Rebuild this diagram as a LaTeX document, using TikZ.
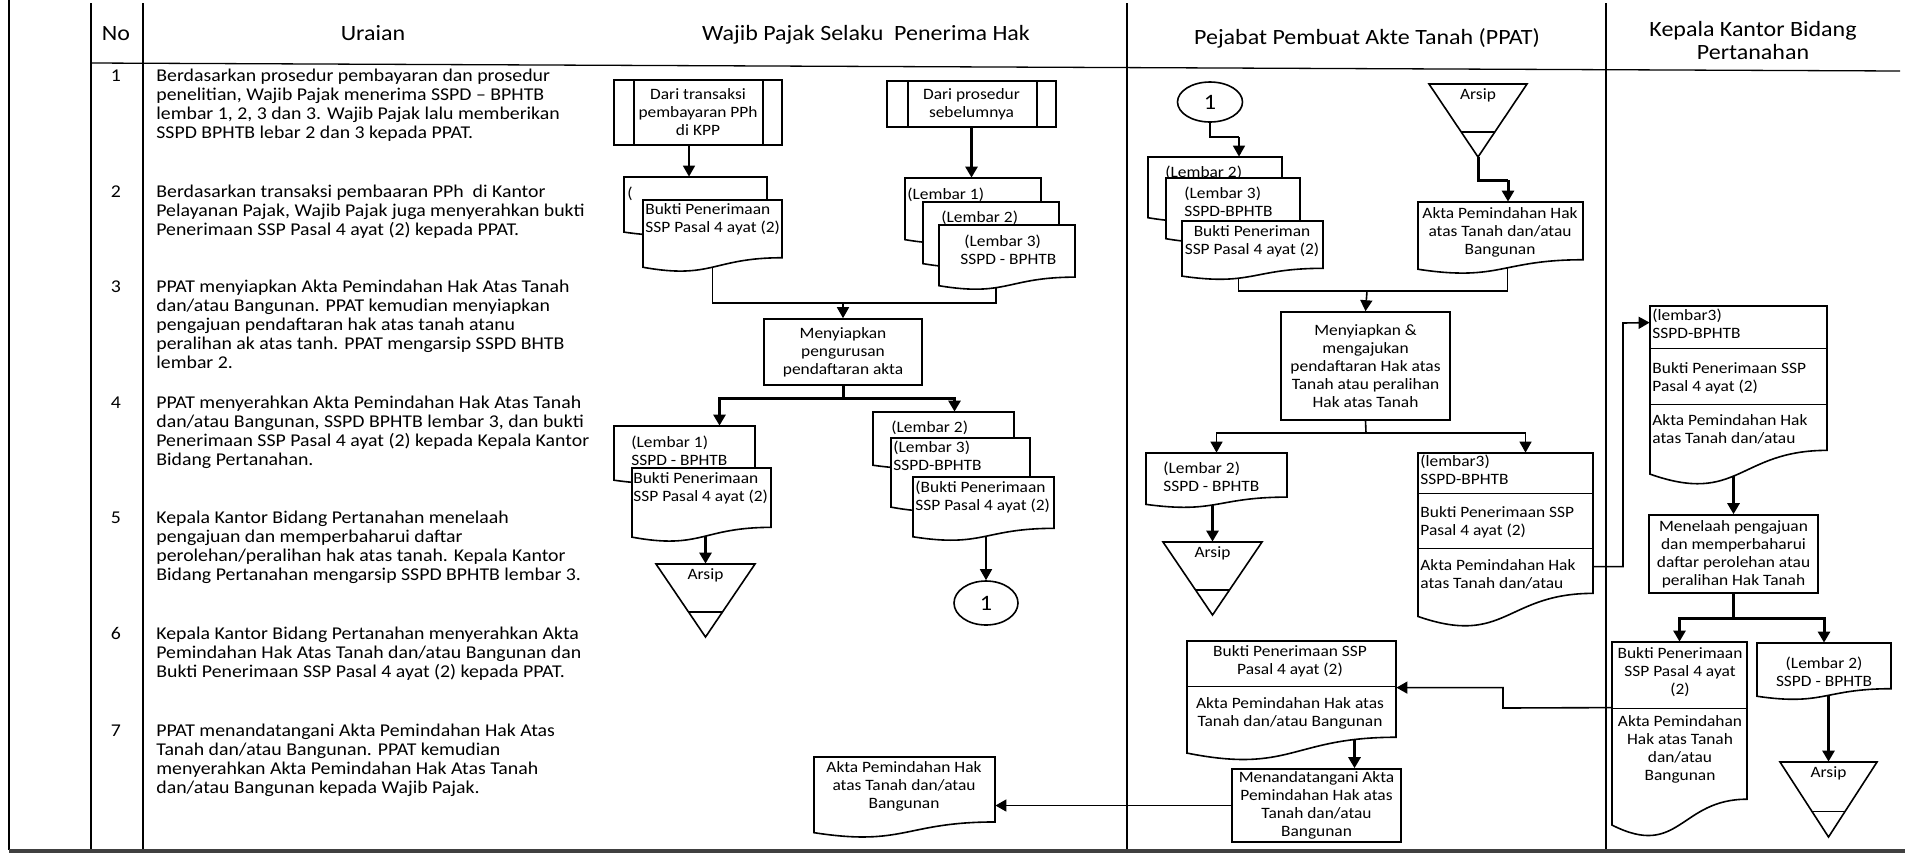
\documentclass[tikz,border=0pt]{standalone}
\usepackage{fontspec}
\setmainfont{Carlito}[FakeStretch=1.1]
\usetikzlibrary{arrows.meta,fit,calc,backgrounds,shapes.geometric}
\newcommand\bxf{\fontsize{7.9}{9}\selectfont}
\newcommand\rwf{\fontsize{9}{9.5}\selectfont}
\newcommand\hdf{\fontsize{10.9}{11.5}\selectfont}
\newcommand\tlines[1]{\begin{tabular}[t]{@{}l@{}}#1\end{tabular}}
\newcommand\tcen[1]{\begin{tabular}[t]{@{}c@{}}#1\end{tabular}}
% document shape: name, x0, y0, x1, h
\newcommand\docshp[5]{%
  \node[inner sep=0pt, fit={(#2,#3) (#4,{#3+#5})}] (#1) {};
  \draw[ln, fill=white] (#2,#3) -- (#4,#3) -- (#4,{#3+0.802*#5}) .. controls ({(#2+#4)/2},{#3+0.802*#5}) and ({(#2+#4)/2},{#3+1.1075*#5}) .. (#2,{#3+0.934*#5}) -- cycle;
}
% archive (merge) triangle: name, x0, x1, top, apex
\newcommand\arsip[5]{%
  \node[inner sep=0pt, fit={(#2,#4) (#3,#5)}] (#1) {};
  \draw[ln, fill=white] (#2,#4) -- (#3,#4) -- ({(#2+#3)/2},#5) -- cycle;
  \draw[ln] ({(#2+#3)/2-0.17*(#3-#2)},{#4+0.66*(#5-#4)}) -- ({(#2+#3)/2+0.17*(#3-#2)},{#4+0.66*(#5-#4)});
  \node[font=\bxf, anchor=base, inner sep=0pt] (#1-t) at ({(#2+#3)/2},{#4+15.5}) {Arsip};
}
\begin{document}
\begin{tikzpicture}[x=0.5pt,y=-0.5pt,
  ln/.style={line width=0.8pt},
  thk/.style={line width=1.5pt},
  tbl/.style={line width=0.65pt},
  arr/.style={-{Triangle[length=5.5pt,width=6pt]}},
  procbox/.style={draw, line width=0.8pt, fill=white, align=center, font=\bxf, inner sep=1pt},
  tx/.style={font=\bxf, inner sep=0pt, anchor=base west},
  txc/.style={font=\bxf, inner sep=0pt, anchor=base},
  rw/.style={font=\rwf, inner sep=0pt, anchor=base west},
  rwn/.style={font=\rwf, inner sep=0pt, anchor=base},
  hd/.style={font=\hdf, inner sep=0pt, anchor=base},
  conn/.style={draw, line width=0.8pt, ellipse, fill=white, inner sep=0pt, font=\fontsize{11}{12}\selectfont}
]
\useasboundingbox (0,0) rectangle (1905,853);

% ---------- headers
\node[hd] (hNo) at (116,40) {No};
\node[hd] (hUr) at (373,40) {Uraian};
\node[hd] (hWp) at (866,40) {Wajib Pajak Selaku\ \ Penerima Hak};
\node[hd] (hPp) at (1367,44) {Pejabat Pembuat Akte Tanah (PPAT)};
\node[hd] (hKk) at (1753,36) {\tcen{Kepala Kantor Bidang\\Pertanahan}};

% ---------- rows
\node[rwn] (n1) at (116,81.5) {1};
\node[rw] (u1) at (156,81.5) {\tlines{Berdasarkan prosedur pembayaran dan prosedur\\penelitian, Wajib Pajak menerima SSPD -- BPHTB\\lembar 1, 2, 3 dan 3. Wajib Pajak lalu memberikan\\SSPD BPHTB lebar 2 dan 3 kepada PPAT.}};
\node[rwn] (n2) at (116,197.5) {2};
\node[rw] (u2) at (156,197.5) {\tlines{Berdasarkan transaksi pembaaran PPh\ \ di Kantor\\Pelayanan Pajak, Wajib Pajak juga menyerahkan bukti\\Penerimaan SSP Pasal 4 ayat (2) kepada PPAT.}};
\node[rwn] (n3) at (116,292.5) {3};
\node[rw] (u3) at (156,292.5) {\tlines{PPAT menyiapkan Akta Pemindahan Hak Atas Tanah\\dan/atau Bangunan. PPAT kemudian menyiapkan\\pengajuan pendaftaran hak atas tanah atanu\\peralihan ak atas tanh. PPAT mengarsip SSPD BHTB\\lembar 2.}};
\node[rwn] (n4) at (116,408.5) {4};
\node[rw] (u4) at (156,408.5) {\tlines{PPAT menyerahkan Akta Pemindahan Hak Atas Tanah\\dan/atau Bangunan, SSPD BPHTB lembar 3, dan bukti\\Penerimaan SSP Pasal 4 ayat (2) kepada Kepala Kantor\\Bidang Pertanahan.}};
\node[rwn] (n5) at (116,523.5) {5};
\node[rw] (u5) at (156,523.5) {\tlines{Kepala Kantor Bidang Pertanahan menelaah\\pengajuan dan memperbaharui daftar\\perolehan/peralihan hak atas tanah. Kepala Kantor\\Bidang Pertanahan mengarsip SSPD BPHTB lembar 3.}};
\node[rwn] (n6) at (116,639.5) {6};
\node[rw] (u6) at (156,639.5) {\tlines{Kepala Kantor Bidang Pertanahan menyerahkan Akta\\Pemindahan Hak Atas Tanah dan/atau Bangunan dan\\Bukti Penerimaan SSP Pasal 4 ayat (2) kepada PPAT.}};
\node[rwn] (n7) at (116,736.5) {7};
\node[rw] (u7) at (156,736.5) {\tlines{PPAT menandatangani Akta Pemindahan Hak Atas\\Tanah dan/atau Bangunan. PPAT kemudian\\menyerahkan Akta Pemindahan Hak Atas Tanah\\dan/atau Bangunan kepada Wajib Pajak.}};

% ---------- Wajib Pajak column
\node[procbox, minimum width=84pt, minimum height=32.5pt] (dt) at (698,112.5) {Dari transaksi\\pembayaran PPh\\di KPP};
\draw[ln] ($(dt.north west)+(21,0)$) -- ($(dt.south west)+(21,0)$);
\draw[ln] ($(dt.north east)+(-20,0)$) -- ($(dt.south east)+(-20,0)$);
\node[procbox, minimum width=84.5pt, minimum height=23pt] (dp) at (971.5,104) {Dari prosedur\\sebelumnya};
\draw[ln] ($(dp.north west)+(22,0)$) -- ($(dp.south west)+(22,0)$);
\draw[ln] ($(dp.north east)+(-20,0)$) -- ($(dp.south east)+(-20,0)$);

\docshp{W1}{624}{177}{767}{59}
\docshp{W2}{643}{200}{782}{72}
\node[tx] (W1t) at (627,198) {(};
\node[tx] (W2t) at (645,214) {\tlines{Bukti Penerimaan\\SSP Pasal 4 ayat (2)}};

\docshp{W3}{905}{178}{1041}{66}
\docshp{W4}{923}{202}{1059}{66}
\docshp{W5}{939}{225}{1075}{65}
\node[tx] (W3t) at (907,199) {(Lembar 1)};
\node[tx] (W4t) at (941,222) {(Lembar 2)};
\node[tx] (W5t) at (960,246) {\tlines{\ (Lembar 3)\\SSPD - BPHTB}};

\node[procbox, minimum width=79pt, minimum height=33pt] (ms) at (843,352) {Menyiapkan\\pengurusan\\pendaftaran akta};

\docshp{W6}{614}{426}{755}{58}
\docshp{W7}{632}{468}{771}{74}
\node[tx] (W6t) at (631,447) {\tlines{(Lembar 1)\\SSPD - BPHTB}};
\node[tx] (W7t) at (633,483) {\tlines{Bukti Penerimaan\\SSP Pasal 4 ayat (2)}};

\docshp{W8}{873}{412}{1014}{57}
\docshp{W9}{891}{438}{1030}{74}
\docshp{W10}{913}{477}{1054}{64}
\node[tx] (W8t) at (891,432) {(Lembar 2)};
\node[tx] (W9t) at (893,452) {\tlines{(Lembar 3)\\SSPD-BPHTB}};
\node[tx] (W10t) at (915,492) {\tlines{(Bukti Penerimaan\\SSP Pasal 4 ayat (2)}};

\arsip{A1}{656}{755}{564}{637}
\node[conn, minimum width=32pt, minimum height=22pt] (C1) at (986,603) {1};

\docshp{W11}{814}{757}{995}{81}
\node[txc] (W11t) at (904,772) {\tcen{Akta Pemindahan Hak\\atas Tanah dan/atau\\Bangunan}};

% ---------- PPAT column
\node[conn, minimum width=32.5pt, minimum height=20pt] (C2) at (1210,102) {1};
\docshp{P1}{1148}{157}{1282}{65}
\docshp{P2}{1166}{178}{1300}{65}
\docshp{P3}{1182}{221}{1323}{59}
\node[tx] (P1t) at (1165,177) {(Lembar 2)};
\node[tx] (P2t) at (1184,198) {\tlines{(Lembar 3)\\SSPD-BPHTB}};
\node[txc] (P3t) at (1252,236) {\tcen{Bukti Peneriman\\SSP Pasal 4 ayat (2)}};

\arsip{A2}{1429}{1527}{84}{157}
\docshp{P4}{1418}{202}{1583}{72}
\node[txc] (P4t) at (1500,218) {\tcen{Akta Pemindahan Hak\\atas Tanah dan/atau\\Bangunan}};

\node[procbox, minimum width=84.5pt, minimum height=54pt] (PM) at (1365.5,366) {Menyiapkan \&\\mengajukan\\pendaftaran Hak atas\\Tanah atau peralihan\\Hak atas Tanah};

\docshp{P5}{1146}{453}{1287}{55}
\node[tx] (P5t) at (1163,473) {\tlines{(Lembar 2)\\SSPD - BPHTB}};
\arsip{A3}{1163}{1262}{542}{615}

\docshp{P6}{1418}{453}{1593}{175}
\draw[ln] ($(P6.north west)+(0,41)$) -- ($(P6.north east)+(0,41)$);
\draw[ln] ($(P6.north west)+(0,96)$) -- ($(P6.north east)+(0,96)$);
\node[tx] (P6a) at (1420,466) {\tlines{(lembar3)\\SSPD-BPHTB}};
\node[tx] (P6b) at (1420,517) {\tlines{Bukti Penerimaan SSP\\Pasal 4 ayat (2)}};
\node[tx] (P6c) at (1420,570) {\tlines{Akta Pemindahan Hak\\atas Tanah dan/atau}};

\docshp{P7}{1187}{641}{1396}{120}
\draw[ln] ($(P7.north west)+(0,46)$) -- ($(P7.north east)+(0,46)$);
\node[txc] (P7a) at (1290,656) {\tcen{Bukti Penerimaan SSP\\Pasal 4 ayat (2)}};
\node[txc] (P7b) at (1290,708) {\tcen{Akta Pemindahan Hak atas\\Tanah dan/atau Bangunan}};

\node[procbox, minimum width=84.5pt, minimum height=36.5pt] (mt) at (1316.5,805.5) {Menandatangani Akta\\Pemindahan Hak atas\\Tanah dan/atau\\Bangunan};

% ---------- Kepala column
\docshp{K1}{1650}{306}{1827}{180}
\draw[ln] ($(K1.north west)+(0,43)$) -- ($(K1.north east)+(0,43)$);
\draw[ln] ($(K1.north west)+(0,99)$) -- ($(K1.north east)+(0,99)$);
\node[tx] (K1a) at (1652,320) {\tlines{(lembar3)\\SSPD-BPHTB}};
\node[tx] (K1b) at (1652,373) {\tlines{Bukti Penerimaan SSP\\Pasal 4 ayat (2)}};
\node[tx] (K1c) at (1652,425) {\tlines{Akta Pemindahan Hak\\atas Tanah dan/atau}};

\node[procbox, minimum width=84.5pt, minimum height=39pt] (KM) at (1733.5,554) {Menelaah pengajuan\\dan memperbaharui\\daftar perolehan atau\\peralihan Hak Tanah};

\docshp{K2}{1612}{642}{1747}{196}
\draw[ln] ($(K2.north west)+(0,67)$) -- ($(K2.north east)+(0,67)$);
\node[txc] (K2a) at (1680,658) {\tcen{Bukti Penerimaan\\SSP Pasal 4 ayat\\(2)}};
\node[txc] (K2b) at (1680,726) {\tcen{Akta Pemindahan\\Hak atas Tanah\\dan/atau\\Bangunan}};

\docshp{K3}{1757}{643}{1891}{57}
\node[txc] (K3t) at (1824,668) {\tcen{(Lembar 2)\\SSPD - BPHTB}};
\arsip{A4}{1780}{1877}{762}{837}

% ---------- background: table and connectors
\begin{scope}[on background layer]
\fill[white] (0,0) rectangle (1905,853);
\draw[tbl] (9,0) -- (9,850);
\draw[tbl] (91,3) -- (91,850);
\draw[tbl] (143,3) -- (143,850);
\draw[tbl] (1127,3) -- (1127,850);
\draw[tbl] (1606,3) -- (1606,850);
\draw[tbl] (91,63) -- (1900,71);
\draw[line width=1.6pt, black!75] (9,851) -- (1905,851);

% Wajib connectors
\coordinate (k1) at ($(dt.south)+(-9,0)$);
\draw[ln,arr] (k1) -- (k1 |- W1.north);
\draw[thk,arr] (dp.south) -- (dp.south |- W3.north);
\coordinate (j1) at (843,303);
\coordinate (k3) at ($(W5.center)+(-11,0)$);
\draw[ln] (W2.center) |- (j1);
\draw[ln] (k3) |- (j1);
\draw[ln,arr] (j1) -- (ms.north);
\coordinate (j2) at (843,398);
\draw[thk] (ms.south) -- (j2);
\coordinate (k4a) at ($(W6.north)+(35,0)$);
\coordinate (k4b) at ($(W8.north)+(11,0)$);
\draw[thk,arr] (j2) -| (k4a);
\draw[thk,arr] (j2) -| (k4b);
\draw[thk,arr] (A1.north |- W7.center) -- (A1.north);
\draw[ln,arr] (C1.north |- W10.center) -- (C1.north);
\draw[ln,arr] (mt.west) -- (mt.west -| W11.east);

% PPAT connectors
\coordinate (j3) at (1239,137);
\draw[ln] (C2.south) |- (j3);
\draw[ln,arr] (j3) -- (j3 |- P1.north);
\coordinate (j4) at (1508,180);
\draw[thk] (A2.south) |- (j4);
\draw[thk,arr] (j4) -- (j4 |- P4.north);
\coordinate (j5) at (1367,291);
\coordinate (k10a) at ($(P3.center)+(-14,0)$);
\coordinate (k10b) at ($(P4.center)+(7,0)$);
\draw[ln] (k10a) |- (j5) -| (k10b);
\draw[ln,arr] (j5) -- (PM.north);
\coordinate (j6) at (1366,433);
\draw[ln] (PM.south) -- (j6);
\coordinate (k11) at ($(P6.north)+(20,0)$);
\draw[ln,arr] (j6) -| (P5.north);
\draw[ln,arr] (j6) -| (k11);
\draw[thk,arr] (A3.north |- P5.center) -- (A3.north);
\coordinate (k13a) at ($(P6.north east)+(0,114)$);
\coordinate (j7) at (1623,323);
\coordinate (k13b) at ($(K1.north west)+(0,17)$);
\draw[ln,arr] (k13a) -| (j7) -- (k13b);
\coordinate (j8) at ($(mt.north)+(38,0)$);
\draw[thk,arr] (j8 |- P7.center) -- (j8);
\coordinate (k15a) at ($(K2.north west)+(0,66)$);
\coordinate (j9) at (1503,708);
\coordinate (k15b) at ($(P7.north east)+(0,47)$);
\draw[ln,arr] (k15a) -- (j9) |- (k15b);

% Kepala connectors
\draw[thk,arr] (KM.north |- K1.center) -- (KM.north);
\coordinate (j11) at (1733.5,618);
\draw[thk] (KM.south) -- (j11);
\draw[thk,arr] (j11) -| (K2.north);
\draw[thk,arr] (j11) -| (K3.north);
\draw[thk,arr] (A4.north |- K3.center) -- (A4.north);
\end{scope}
\end{tikzpicture}
\end{document}
